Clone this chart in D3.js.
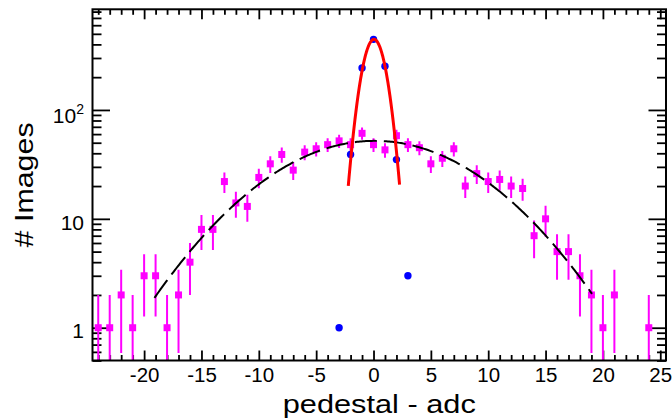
<!DOCTYPE html>
<html><head><meta charset="utf-8">
<script src="https://cdn.jsdelivr.net/npm/d3@7"></script>
<style>
body{margin:0;background:#fff}
svg{display:block}
text{font-family:"Liberation Sans",Arial,Helvetica,sans-serif;fill:#000}
</style>
</head><body>
<svg id="chart" width="672" height="419"></svg>
<script>
// ---- data ----
const adcBins   = [-24,-23,-22,-21,-20,-19,-18,-17,-16,-15,-14,-13,-12,-11,-10,-9,-8,-7,-6,-5,-4,-3,-2,-1,0,1,2,3,4,5,6,7,8,9,10,11,12,13,14,15,16,17,18,19,20,21,22,23,24];
const adcCounts = [1,1,2,1,3,3,1,2,4,8,8,22,14,13,24,32,39,28,41,44,48,52,48,61,48,43,58,48,45,32,36,44,20,26,22,23,20,19,7,10,5,5,3,2,1,2,0,0,1];
const pedBins   = [-3,-2,-1,0,1,2,3];
const pedCounts = [1,39,243,445,252,35,3];
// Gaussian fit parameters [constant, mean, sigma] and drawn ranges
const narrowFit   = [445, 0.04, 0.9];
const narrowRange = [-2.2, 2.27];
const wideFit     = [52, 0.1, 7.45];
const wideRange   = [-19.1, 19.05];
const xMajorTicks = [-20,-15,-10,-5,0,5,10,15,20,25];
const yMajorTicks = [1,10,100];
const yTickLabels = ["1","10","10^2"];
const xTitle = "pedestal - adc";
const yTitle = "# Images";

// ---- layout ----
const L = 92.5, R = 666, T = 9.3, B = 360.5;
const svg = d3.select("#chart");
const x = d3.scaleLinear().domain([-24.5, 25.5]).range([L, R]);
const y = d3.scaleLog().domain([0.5, 840]).range([B, T]);

const xMinor = d3.range(-24, 26).filter(v => !xMajorTicks.includes(v));
const yMinor = [];
[0.1, 1, 10, 100].forEach(dec => { for (let m = 2; m <= 9; m++) { const v = m * dec; if (v >= 0.5 && v <= 840 && !yMajorTicks.includes(v)) yMinor.push(v); } });

svg.append("clipPath").attr("id","clip").append("rect")
  .attr("x", L).attr("y", T).attr("width", R - L).attr("height", B - T);

function styleAxis(g) {
  g.select(".domain").remove();
  g.selectAll(".tick line").attr("stroke", "#000").attr("stroke-width", 1.8);
}

// bottom
svg.append("g").attr("transform", `translate(0,${B})`)
  .call(d3.axisBottom(x).tickValues(xMajorTicks).tickSizeInner(-10).tickSizeOuter(0).tickPadding(7).tickFormat(d => String(d)))
  .call(styleAxis)
  .call(g => g.selectAll("text").attr("font-size", 20.5).attr("font-family", null));
svg.append("g").attr("transform", `translate(0,${B})`)
  .call(d3.axisBottom(x).tickValues(xMinor).tickSizeInner(-5.5).tickSizeOuter(0).tickFormat(""))
  .call(styleAxis);
// top
svg.append("g").attr("transform", `translate(0,${T})`)
  .call(d3.axisTop(x).tickValues(xMajorTicks).tickSizeInner(-10).tickSizeOuter(0).tickFormat(""))
  .call(styleAxis);
svg.append("g").attr("transform", `translate(0,${T})`)
  .call(d3.axisTop(x).tickValues(xMinor).tickSizeInner(-5.5).tickSizeOuter(0).tickFormat(""))
  .call(styleAxis);
// left
svg.append("g").attr("transform", `translate(${L},0)`)
  .call(d3.axisLeft(y).tickValues(yMajorTicks).tickSizeInner(-17.5).tickSizeOuter(0).tickPadding(8.5).tickFormat(""))
  .call(styleAxis)
  .call(g => g.selectAll(".tick text").each(function(d, i) {
      const t = d3.select(this).attr("font-size", 21).attr("font-family", null).attr("dy", null);
      const lab = yTickLabels[i];
      if (lab.includes("^")) {
        const [base, sup] = lab.split("^");
        t.attr("y", 12.3);
        t.append("tspan").text(base);
        t.append("tspan").attr("font-size", 14).attr("dy", -8.5).text(sup);
      } else {
        t.attr("y", 10.2).text(lab);
      }
  }));
svg.append("g").attr("transform", `translate(${L},0)`)
  .call(d3.axisLeft(y).tickValues(yMinor).tickSizeInner(-9).tickSizeOuter(0).tickFormat(""))
  .call(styleAxis);
// right
svg.append("g").attr("transform", `translate(${R},0)`)
  .call(d3.axisRight(y).tickValues(yMajorTicks).tickSizeInner(-17.5).tickSizeOuter(0).tickFormat(""))
  .call(styleAxis);
svg.append("g").attr("transform", `translate(${R},0)`)
  .call(d3.axisRight(y).tickValues(yMinor).tickSizeInner(-9).tickSizeOuter(0).tickFormat(""))
  .call(styleAxis);

// ---- data marks ----
const plot = svg.append("g").attr("clip-path", "url(#clip)");
const adc = adcBins.map((b, i) => ({b, n: adcCounts[i]})).filter(d => d.n > 0);
plot.append("g").selectAll("line").data(adc).join("line")
  .attr("x1", d => x(d.b)).attr("x2", d => x(d.b))
  .attr("y1", d => d.n - Math.sqrt(d.n) > 0 ? y(d.n - Math.sqrt(d.n)) : B + 5)
  .attr("y2", d => y(d.n + Math.sqrt(d.n)))
  .attr("stroke", "#ff00ff").attr("stroke-width", 2);
plot.append("g").selectAll("rect").data(adc).join("rect")
  .attr("x", d => x(d.b) - 3.5).attr("y", d => y(d.n) - 3.5)
  .attr("width", 7).attr("height", 7).attr("fill", "#ff00ff");

const ped = pedBins.map((b, i) => ({b, n: pedCounts[i]})).filter(d => d.n > 0);
plot.append("g").selectAll("circle").data(ped).join("circle")
  .attr("cx", d => x(d.b)).attr("cy", d => y(d.n)).attr("r", 3.7).attr("fill", "#0000ff");

function gaus(p, v) { return p[0] * Math.exp(-0.5 * Math.pow((v - p[1]) / p[2], 2)); }
function curve(p, rng, n) {
  const pts = [];
  for (let i = 0; i <= n; i++) { const v = rng[0] + (rng[1] - rng[0]) * i / n; pts.push([v, gaus(p, v)]); }
  return pts;
}
const line = d3.line().x(d => x(d[0])).y(d => y(d[1]));
plot.append("path").attr("d", line(curve(wideFit, wideRange, 300)))
  .attr("fill", "none").attr("stroke", "#000").attr("stroke-width", 2).attr("stroke-dasharray", "22 7");
plot.append("path").attr("d", line(curve(narrowFit, narrowRange, 200)))
  .attr("fill", "none").attr("stroke", "#ff0000").attr("stroke-width", 3);

// frame
svg.append("rect").attr("x", L).attr("y", T).attr("width", R - L).attr("height", B - T)
  .attr("fill", "none").attr("stroke", "#000").attr("stroke-width", 2);

// titles
svg.append("text").attr("x", (L + R) / 2).attr("y", 412.7).attr("text-anchor", "middle")
  .attr("font-size", 25).attr("textLength", 193).attr("lengthAdjust", "spacingAndGlyphs").text(xTitle);
svg.append("text").attr("transform", `translate(33,${(T + B) / 2}) rotate(-90)`).attr("text-anchor", "middle")
  .attr("font-size", 26).attr("textLength", 125).attr("lengthAdjust", "spacingAndGlyphs").text(yTitle);
</script>
</body></html>
